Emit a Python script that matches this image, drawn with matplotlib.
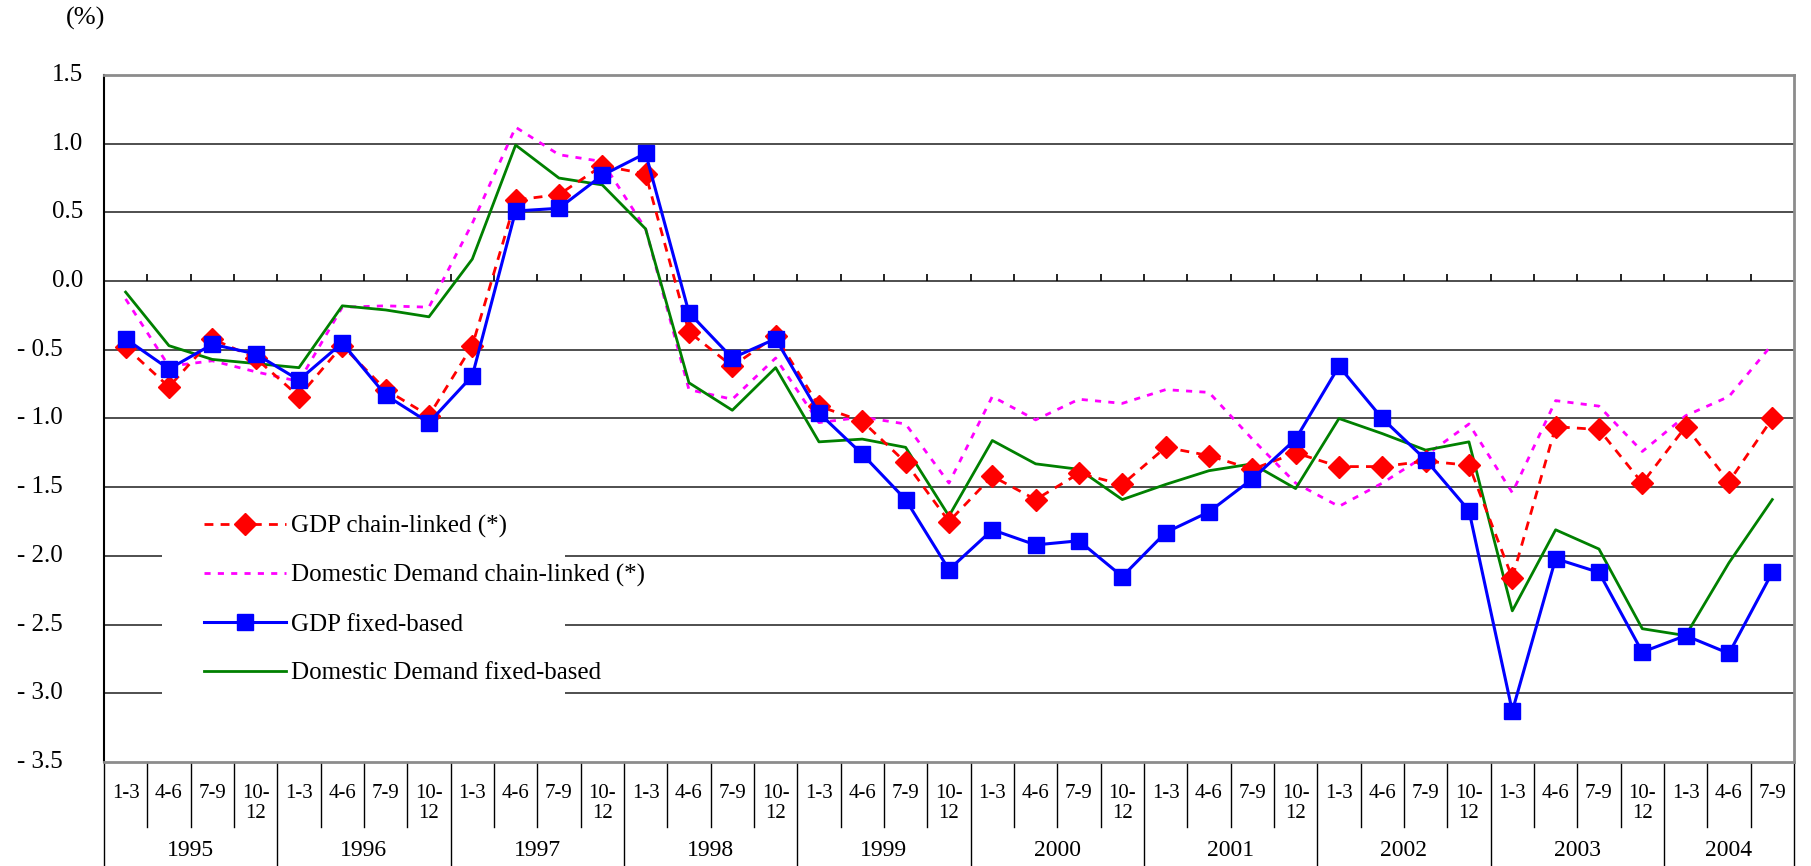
import numpy as np
import matplotlib.pyplot as plt
from matplotlib.patches import Rectangle

plt.rcParams['font.family'] = ['Liberation Serif', 'DejaVu Serif']

years = ["1995", "1996", "1997", "1998", "1999", "2000", "2001", "2002", "2003", "2004"]
quarters = ["1-3", "4-6", "7-9", "10-\n12"]

# quarterly values, 1995 1-3 .. 2004 7-9 (%)
gdp_chain = [-0.48, -0.77, -0.42, -0.56, -0.84, -0.47, -0.79, -0.98, -0.47, 0.59,
             0.63, 0.84, 0.78, -0.37, -0.62, -0.40, -0.91, -1.02, -1.32, -1.75,
             -1.42, -1.59, -1.40, -1.48, -1.21, -1.27, -1.37, -1.25, -1.35, -1.35,
             -1.31, -1.34, -2.16, -1.06, -1.08, -1.47, -1.06, -1.46, -1.00]
dd_chain = [-0.13, -0.62, -0.58, -0.66, -0.73, -0.19, -0.18, -0.19, 0.42, 1.12,
            0.92, 0.87, 0.38, -0.79, -0.86, -0.56, -1.03, -0.99, -1.04, -1.47,
            -0.84, -1.01, -0.86, -0.89, -0.79, -0.81, -1.15, -1.47, -1.64, -1.47,
            -1.27, -1.04, -1.54, -0.87, -0.91, -1.24, -0.98, -0.84, -0.46]
gdp_fixed = [-0.42, -0.64, -0.46, -0.53, -0.72, -0.45, -0.83, -1.03, -0.69, 0.51,
             0.53, 0.77, 0.93, -0.23, -0.56, -0.42, -0.96, -1.26, -1.59, -2.10,
             -1.81, -1.92, -1.89, -2.15, -1.83, -1.68, -1.44, -1.15, -0.62, -1.00,
             -1.30, -1.67, -3.13, -2.02, -2.12, -2.70, -2.58, -2.71, -2.12]
dd_fixed = [-0.08, -0.47, -0.57, -0.60, -0.63, -0.18, -0.21, -0.26, 0.16, 0.99,
            0.75, 0.70, 0.38, -0.74, -0.94, -0.63, -1.17, -1.15, -1.21, -1.71,
            -1.16, -1.33, -1.37, -1.59, -1.48, -1.38, -1.33, -1.51, -1.00, -1.11,
            -1.23, -1.17, -2.40, -1.81, -1.95, -2.53, -2.58, -2.05, -1.59]

y_ticks = [-3.5, -3.0, -2.5, -2.0, -1.5, -1.0, -0.5, 0.0, 0.5, 1.0, 1.5]

n = len(gdp_fixed)
x = np.arange(n)

fig = plt.figure(figsize=(18.11, 8.66), dpi=100)
ax = fig.add_axes([0.0574, 0.1201, 0.9332, 0.7933])

# lines
l_dd_chain, = ax.plot(x, dd_chain, color='#FF00FF', lw=2, ls=(0, (2.2, 2.6)), zorder=3)
l_dd_fixed, = ax.plot(x, dd_fixed, color='#008000', lw=2, zorder=3)
l_gdp_chain, = ax.plot(x, gdp_chain, color='#FF0000', lw=2, ls=(0, (3.2, 2.6)),
                       marker='D', ms=11, mec='#FF0000', mfc='#FF0000', zorder=4)
l_gdp_fixed, = ax.plot(x, gdp_fixed, color='#0000FF', lw=2.2, marker='s', ms=12,
                       mec='#0000FF', mfc='#0000FF', zorder=5)

ax.set_xlim(-0.5, n - 0.5)
ax.set_ylim(-3.5, 1.5)

# gridlines
for v in y_ticks[1:-1]:
    ax.axhline(v, color='#303030', lw=1.2, zorder=1)

# y labels: negatives sit further left, like the accounting format in the source
ax.set_yticks([])
ax.set_xticks([])
ytrans = ax.get_yaxis_transform()
for v in y_ticks:
    if v < 0:
        ax.text(-0.0243, v, f"{v:.1f}".replace("-", "- "), transform=ytrans,
                ha='right', va='center', fontsize=18)
    else:
        ax.text(-0.0124, v, f"{v:.1f}", transform=ytrans, ha='right', va='center', fontsize=18)

for s in ['top', 'right', 'bottom']:
    ax.spines[s].set_color('#8c8c8c')
    ax.spines[s].set_linewidth(2)
ax.spines['left'].set_color('black')
ax.spines['left'].set_linewidth(1.5)

# small ticks on the zero line
ax.vlines(x[:-1] + 0.5, 0, 0.05, color='black', lw=1.2, zorder=2)

# category axis below the plot
trans = ax.get_xaxis_transform()
for i in range(n):
    ax.text(i, -0.032, quarters[i % 4], transform=trans, ha='center', va='top',
            fontsize=15, linespacing=1.05)
for b in range(n + 1):
    left = b - 0.5
    if b % 4 == 0 or b == n:
        ax.plot([left, left], [0, -0.155], transform=trans, color='black', lw=1, clip_on=False)
    else:
        ax.plot([left, left], [0, -0.095], transform=trans, color='black', lw=1, clip_on=False)
for j, yr in enumerate(years):
    start = 4 * j - 0.5
    end = min(4 * j + 3.5, n - 0.5)
    ax.text((start + end) / 2, -0.1295, yr, transform=trans, ha='center', va='center', fontsize=17)

fig.text(0.0475, 0.979, "(%)", ha='center', va='center', fontsize=19)

# legend with a white patch that hides the gridlines behind it
ax.add_patch(Rectangle((0.0343, 0.08), 0.2385, 0.30, transform=ax.transAxes,
                       facecolor='white', edgecolor='none', zorder=2))
leg = ax.legend([l_gdp_chain, l_dd_chain, l_gdp_fixed, l_dd_fixed],
                ["GDP chain-linked (*)", "Domestic Demand chain-linked (*)",
                 "GDP fixed-based", "Domestic Demand fixed-based"],
                loc='upper left', bbox_to_anchor=(0.1126, 0.405), bbox_transform=fig.transFigure,
                frameon=False, fontsize=18, handlelength=3.3, handletextpad=0.2,
                labelspacing=1.04, borderpad=0, borderaxespad=0)
leg.set_zorder(6)

fig.savefig("out.png", dpi=100)
